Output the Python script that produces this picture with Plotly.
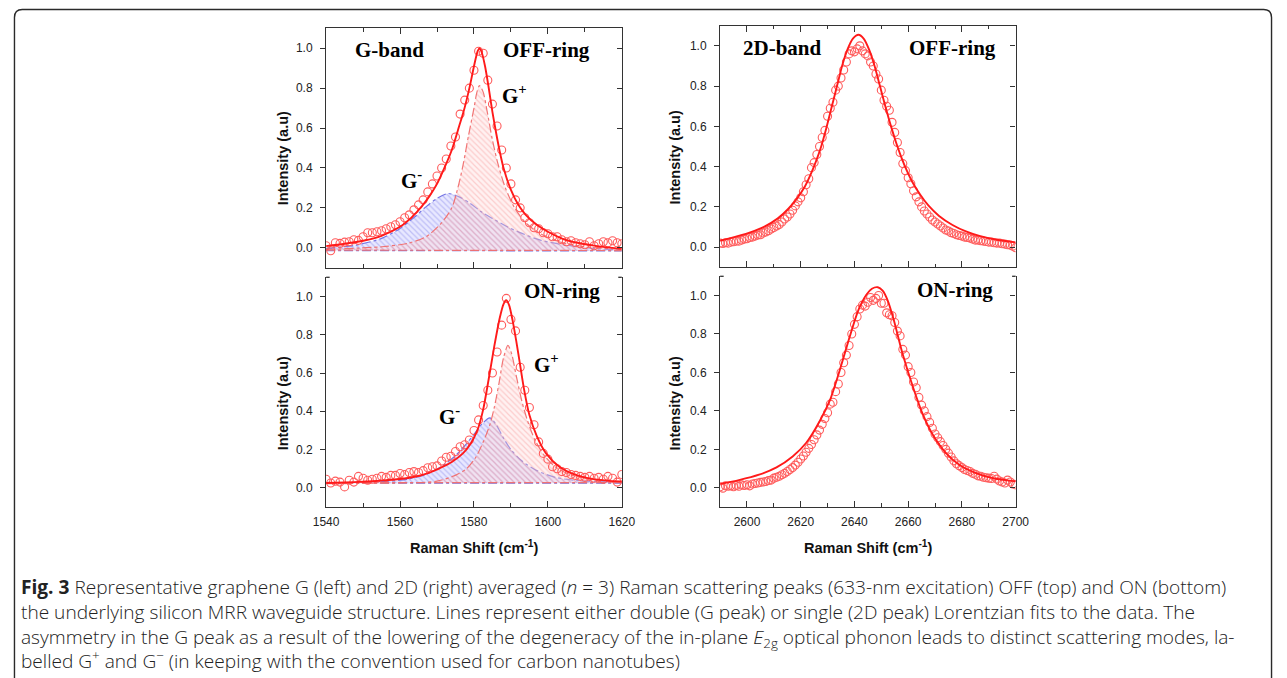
import plotly.graph_objects as go

W, H = 1287, 678

# ---------------- data ----------------
g_x = [1540.00, 1541.25, 1542.50, 1543.75, 1545.00, 1546.25, 1547.50, 1548.75, 1550.00, 1551.25,
       1552.50, 1553.75, 1555.00, 1556.25, 1557.50, 1558.75, 1560.00, 1561.25, 1562.50, 1563.75,
       1565.00, 1566.25, 1567.50, 1568.75, 1570.00, 1571.25, 1572.50, 1573.75, 1575.00, 1576.25,
       1577.50, 1578.75, 1580.00, 1581.25, 1582.50, 1583.75, 1585.00, 1586.25, 1587.50, 1588.75,
       1590.00, 1591.25, 1592.50, 1593.75, 1595.00, 1596.25, 1597.50, 1598.75, 1600.00, 1601.25,
       1602.50, 1603.75, 1605.00, 1606.25, 1607.50, 1608.75, 1610.00, 1611.25, 1612.50, 1613.75,
       1615.00, 1616.25, 1617.50, 1618.75, 1620.00]
g_off_y = [0.010, -0.015, 0.025, 0.022, 0.028, 0.030, 0.040, 0.037, 0.055, 0.075,
           0.075, 0.080, 0.085, 0.095, 0.105, 0.115, 0.130, 0.150, 0.165, 0.190,
           0.215, 0.240, 0.280, 0.320, 0.360, 0.400, 0.445, 0.510, 0.555, 0.670,
           0.740, 0.800, 0.890, 0.985, 0.975, 0.840, 0.720, 0.610, 0.490, 0.400,
           0.320, 0.240, 0.200, 0.150, 0.125, 0.100, 0.095, 0.075, 0.070, 0.055,
           0.055, 0.040, 0.030, 0.035, 0.025, 0.020, 0.015, 0.030, 0.010, 0.020,
           0.030, 0.025, 0.035, 0.025, 0.020]
g_off_fit_x = [1540, 1545, 1550, 1555, 1560, 1563, 1566, 1568, 1570, 1572, 1574, 1576, 1577, 1578,
               1579, 1580, 1581, 1581.5, 1582, 1583, 1584, 1585, 1586, 1587, 1588, 1590, 1592, 1594,
               1597, 1600, 1604, 1608, 1612, 1616, 1620]
g_off_fit_y = [0.008, 0.020, 0.035, 0.060, 0.105, 0.150, 0.210, 0.260, 0.320, 0.400, 0.490, 0.610,
               0.670, 0.740, 0.820, 0.910, 0.985, 1.000, 0.985, 0.910, 0.800, 0.680, 0.575, 0.480,
               0.400, 0.290, 0.215, 0.165, 0.115, 0.080, 0.045, 0.025, 0.012, 0.002, -0.006]
g_off_plus_x = [1540, 1555, 1562, 1567, 1571, 1574, 1575.5, 1577, 1578.5, 1580, 1580.8, 1581.5,
                1582.5, 1583.5, 1585, 1586.5, 1588.5, 1591, 1594, 1598, 1603, 1610, 1620]
g_off_plus_y = [-0.008, 0.005, 0.022, 0.055, 0.120, 0.200, 0.290, 0.410, 0.560, 0.700, 0.780, 0.813,
                0.780, 0.690, 0.540, 0.420, 0.300, 0.200, 0.125, 0.070, 0.030, 0.005, -0.008]
g_off_minus_x = [1540, 1548, 1555, 1560, 1564, 1567, 1570, 1573, 1576, 1579, 1582, 1585, 1589,
                 1593, 1598, 1605, 1612, 1620]
g_off_minus_y = [-0.003, 0.013, 0.047, 0.097, 0.155, 0.205, 0.247, 0.272, 0.255, 0.222, 0.180,
                 0.147, 0.105, 0.072, 0.038, 0.013, -0.003, -0.012]
g_base_x = [1540, 1620]
g_off_base_red = [-0.012, -0.014]
g_off_base_blue = [-0.014, -0.016]

g_on_y = [0.045, 0.025, 0.035, 0.030, 0.005, 0.040, 0.030, 0.060, 0.050, 0.040,
          0.045, 0.050, 0.060, 0.055, 0.065, 0.065, 0.075, 0.070, 0.080, 0.085,
          0.080, 0.090, 0.105, 0.110, 0.115, 0.140, 0.160, 0.165, 0.190, 0.215,
          0.225, 0.250, 0.300, 0.355, 0.430, 0.510, 0.600, 0.710, 0.850, 0.990,
          0.880, 0.820, 0.630, 0.510, 0.420, 0.330, 0.240, 0.180, 0.150, 0.110,
          0.100, 0.085, 0.080, 0.070, 0.065, 0.060, 0.055, 0.060, 0.050, 0.055,
          0.045, 0.060, 0.050, 0.030, 0.070]
g_on_fit_x = [1540, 1545, 1550, 1555, 1560, 1564, 1568, 1571, 1574, 1577, 1579, 1581, 1582.5, 1584,
              1585.5, 1587, 1588, 1588.7, 1589.5, 1590.5, 1591.5, 1592.5, 1593.5, 1595, 1597, 1599.5,
              1603, 1607, 1612, 1616, 1620]
g_on_fit_y = [0.025, 0.028, 0.032, 0.038, 0.046, 0.058, 0.080, 0.105, 0.135, 0.180, 0.228, 0.305,
              0.410, 0.570, 0.740, 0.890, 0.960, 0.980, 0.955, 0.870, 0.760, 0.640, 0.520, 0.380,
              0.270, 0.180, 0.112, 0.072, 0.047, 0.038, 0.033]
g_on_plus_x = [1540, 1560, 1570, 1575.2, 1578, 1580.5, 1582.5, 1584.3, 1585.5, 1586.8, 1588, 1589.2,
               1590.2, 1591.5, 1593, 1594.5, 1596.5, 1599, 1602, 1606, 1612, 1620]
g_on_plus_y = [0.022, 0.026, 0.035, 0.068, 0.100, 0.160, 0.240, 0.330, 0.420, 0.550, 0.680, 0.745,
               0.700, 0.580, 0.450, 0.350, 0.250, 0.170, 0.110, 0.070, 0.045, 0.032]
g_on_minus_x = [1540, 1555, 1562, 1567, 1571, 1574.5, 1577.5, 1580, 1582, 1584.3, 1586, 1588, 1590,
                1593, 1597, 1602, 1608, 1620]
g_on_minus_y = [0.025, 0.032, 0.045, 0.070, 0.110, 0.160, 0.220, 0.280, 0.330, 0.366, 0.330, 0.260,
                0.200, 0.140, 0.090, 0.055, 0.038, 0.030]
g_on_base_red = [0.027, 0.027]
g_on_base_blue = [0.024, 0.024]

d_x = [2590, 2591, 2592, 2593, 2594, 2595, 2596, 2597, 2598, 2599,
       2600, 2601, 2602, 2603, 2604, 2605, 2606, 2607, 2608, 2609,
       2610, 2611, 2612, 2613, 2614, 2615, 2616, 2617, 2618, 2619,
       2620, 2621, 2622, 2623, 2624, 2625, 2626, 2627, 2628, 2629,
       2630, 2631, 2632, 2633, 2634, 2635, 2636, 2637, 2638, 2639,
       2640, 2641, 2642, 2643, 2644, 2645, 2646, 2647, 2648, 2649,
       2650, 2651, 2652, 2653, 2654, 2655, 2656, 2657, 2658, 2659,
       2660, 2661, 2662, 2663, 2664, 2665, 2666, 2667, 2668, 2669,
       2670, 2671, 2672, 2673, 2674, 2675, 2676, 2677, 2678, 2679,
       2680, 2681, 2682, 2683, 2684, 2685, 2686, 2687, 2688, 2689,
       2690, 2691, 2692, 2693, 2694, 2695, 2696, 2697, 2698, 2699,
       2700]
d_off_y = [0.020, 0.018, 0.022, 0.020, 0.025, 0.027, 0.030, 0.030, 0.035, 0.040,
           0.042, 0.048, 0.050, 0.055, 0.060, 0.062, 0.070, 0.075, 0.082, 0.090,
           0.098, 0.105, 0.112, 0.125, 0.140, 0.150, 0.165, 0.183, 0.205, 0.225,
           0.245, 0.275, 0.310, 0.340, 0.395, 0.420, 0.460, 0.500, 0.545, 0.580,
           0.650, 0.690, 0.720, 0.780, 0.800, 0.840, 0.880, 0.920, 0.960, 0.975,
           0.970, 0.985, 1.000, 0.975, 0.960, 0.950, 0.920, 0.900, 0.860, 0.835,
           0.780, 0.730, 0.700, 0.680, 0.620, 0.570, 0.520, 0.470, 0.415, 0.380,
           0.345, 0.315, 0.280, 0.250, 0.225, 0.200, 0.180, 0.165, 0.150, 0.135,
           0.125, 0.115, 0.105, 0.095, 0.085, 0.080, 0.072, 0.068, 0.062, 0.058,
           0.055, 0.050, 0.048, 0.045, 0.040, 0.035, 0.035, 0.032, 0.030, 0.028,
           0.025, 0.025, 0.022, 0.020, 0.020, 0.017, 0.015, 0.012, 0.010, 0.005,
           -0.003]
d_off_fit_x = [2590, 2596.5, 2601.5, 2606.5, 2611.5, 2615.5, 2618.5, 2621.5, 2623.5, 2625.5, 2627.5,
               2629.5, 2631.5, 2633.5, 2635.5, 2637.5, 2639.5, 2641.5, 2643.5, 2645.5, 2647.5, 2649.5,
               2651.5, 2653.5, 2655.5, 2657.5, 2659.5, 2661.5, 2664.5, 2667.5, 2671.5, 2676.5, 2681.5,
               2686.5, 2693, 2700]
d_off_fit_y = [0.032, 0.055, 0.075, 0.102, 0.143, 0.192, 0.240, 0.300, 0.355, 0.420, 0.495, 0.590,
               0.695, 0.800, 0.905, 0.985, 1.037, 1.055, 1.035, 0.980, 0.900, 0.800, 0.700, 0.605,
               0.520, 0.445, 0.380, 0.325, 0.260, 0.207, 0.155, 0.110, 0.078, 0.056, 0.037, 0.024]
d_on_y = [0.005, -0.002, 0.010, 0.008, 0.010, 0.005, 0.012, 0.008, 0.015, 0.012,
          0.016, 0.010, 0.020, 0.022, 0.025, 0.028, 0.030, 0.033, 0.038, 0.040,
          0.050, 0.055, 0.060, 0.068, 0.075, 0.085, 0.095, 0.105, 0.118, 0.133,
          0.150, 0.165, 0.185, 0.205, 0.225, 0.250, 0.275, 0.300, 0.330, 0.360,
          0.390, 0.435, 0.445, 0.500, 0.540, 0.600, 0.650, 0.690, 0.740, 0.800,
          0.850, 0.890, 0.930, 0.950, 0.945, 0.965, 0.990, 0.975, 0.985, 1.000,
          0.960, 0.960, 0.910, 0.900, 0.895, 0.860, 0.815, 0.790, 0.720, 0.690,
          0.630, 0.600, 0.550, 0.520, 0.470, 0.430, 0.400, 0.370, 0.340, 0.310,
          0.280, 0.260, 0.240, 0.220, 0.200, 0.180, 0.160, 0.140, 0.125, 0.115,
          0.105, 0.095, 0.090, 0.085, 0.075, 0.070, 0.062, 0.060, 0.055, 0.052,
          0.050, 0.048, 0.060, 0.045, 0.035, 0.030, 0.025, 0.040, 0.030, 0.020,
          0.015]
d_on_fit_x = [2590, 2597, 2604.5, 2611, 2617, 2622, 2627, 2631, 2634.5, 2638, 2641.5, 2644.5, 2646.5,
              2648.7, 2650.5, 2652.5, 2654.5, 2658, 2662, 2665.5, 2669, 2674, 2679, 2685, 2691.5, 2700]
d_on_fit_y = [0.020, 0.040, 0.068, 0.106, 0.163, 0.233, 0.345, 0.460, 0.610, 0.775, 0.925, 1.005,
              1.035, 1.043, 1.025, 0.970, 0.880, 0.693, 0.515, 0.380, 0.280, 0.182, 0.120, 0.078,
              0.050, 0.033]

g_xticks = [1540, 1560, 1580, 1600, 1620]
d_xticks = [2600, 2620, 2640, 2660, 2680, 2700]
y_ticks = [0.0, 0.2, 0.4, 0.6, 0.8, 1.0]
y_ticktext = ["0.0", "0.2", "0.4", "0.6", "0.8", "1.0"]

# ---------------- styling / layout ----------------
AX = "#333333"
RED_FIT = "#ff1a1a"
RED_PT = "#ff5c5c"
PLUS_LINE = "rgba(240,110,110,0.95)"
MINUS_LINE = "rgba(110,110,225,0.95)"
TICKF = dict(family="Liberation Sans, Arial, sans-serif", size=12, color="#222222")
TITLEF = dict(family="Liberation Sans, Arial, sans-serif", size=14.5, color="#111111")
LABF = dict(family="Liberation Serif, Times New Roman, serif", size=21, color="#000000")

# horizontal correction (the photographed page comes out slightly narrower than drawn)
KX = 0.98
def SX(p):
    return (W / 2 + (p - W / 2) / KX) / W

def SY(p):
    return 1 - p / H

# panel boxes in target pixels (left, right, top, bottom)
boxes = {
    1: (326.3, 622.3, 28.3, 267.7),
    2: (326.3, 622.3, 277.3, 507.0),
    3: (720.7, 1016.5, 25.7, 267.3),
    4: (720.7, 1016.5, 276.3, 507.0),
}

fig = go.Figure()

def sfx(i):
    return "" if i == 1 else str(i)

def add_G(i, yd, fx, fy, px_, py_, mx_, my_, bred, bblue):
    xa, ya = "x" + sfx(i), "y" + sfx(i)
    common = dict(xaxis=xa, yaxis=ya, showlegend=False, hoverinfo="skip")
    fig.add_trace(go.Scatter(x=g_base_x, y=bblue, mode="lines",
                             line=dict(color=MINUS_LINE, dash="dashdot", width=1.2), **common))
    fig.add_trace(go.Scatter(x=mx_, y=my_, mode="lines",
                             line=dict(color=MINUS_LINE, dash="dashdot", width=1.2, shape="spline", smoothing=0.8),
                             fill="tonexty", fillcolor="rgba(190,190,250,0.45)",
                             fillpattern=dict(shape="\\", fgcolor="rgba(110,110,230,0.7)",
                                              bgcolor="rgba(205,205,255,0.45)", size=4, solidity=0.3),
                             **common))
    fig.add_trace(go.Scatter(x=g_base_x, y=bred, mode="lines",
                             line=dict(color=PLUS_LINE, dash="dashdot", width=1.2), **common))
    fig.add_trace(go.Scatter(x=px_, y=py_, mode="lines",
                             line=dict(color=PLUS_LINE, dash="dashdot", width=1.2, shape="spline", smoothing=0.8),
                             fill="tonexty", fillcolor="rgba(255,205,205,0.4)",
                             fillpattern=dict(shape="\\", fgcolor="rgba(245,125,125,0.65)",
                                              bgcolor="rgba(255,215,215,0.35)", size=4, solidity=0.3),
                             **common))
    fig.add_trace(go.Scatter(x=g_x, y=yd, mode="markers",
                             marker=dict(symbol="circle-open", size=8, color=RED_PT, line=dict(width=1.1)),
                             **common))
    fig.add_trace(go.Scatter(x=fx, y=fy, mode="lines",
                             line=dict(color=RED_FIT, width=1.9, shape="spline", smoothing=0.7), **common))

def add_D(i, yd, fx, fy):
    xa, ya = "x" + sfx(i), "y" + sfx(i)
    common = dict(xaxis=xa, yaxis=ya, showlegend=False, hoverinfo="skip")
    fig.add_trace(go.Scatter(x=d_x, y=yd, mode="markers",
                             marker=dict(symbol="circle-open", size=8, color=RED_PT, line=dict(width=1.1)),
                             **common))
    fig.add_trace(go.Scatter(x=fx, y=fy, mode="lines",
                             line=dict(color=RED_FIT, width=1.9, shape="spline", smoothing=0.7), **common))

add_G(1, g_off_y, g_off_fit_x, g_off_fit_y, g_off_plus_x, g_off_plus_y, g_off_minus_x, g_off_minus_y,
      g_off_base_red, g_off_base_blue)
add_G(2, g_on_y, g_on_fit_x, g_on_fit_y, g_on_plus_x, g_on_plus_y, g_on_minus_x, g_on_minus_y,
      g_on_base_red, g_on_base_blue)
add_D(3, d_off_y, d_off_fit_x, d_off_fit_y)
add_D(4, d_on_y, d_on_fit_x, d_on_fit_y)

for i in range(1, 5):
    fig.add_trace(go.Scatter(x=[None], y=[None], xaxis="x" + sfx(i), yaxis="y" + str(i + 4),
                             showlegend=False, hoverinfo="skip"))

layout = dict(width=W, height=H, margin=dict(l=0, r=0, t=0, b=0),
              paper_bgcolor="white", plot_bgcolor="white", showlegend=False)

for i in range(1, 5):
    b = boxes[i]
    is_g = i in (1, 2)
    is_bottom = i in (2, 4)
    xr = [1540, 1620] if is_g else [2590, 2700]
    xt = g_xticks if is_g else d_xticks
    layout["xaxis" + sfx(i)] = dict(
        domain=[SX(b[0]), SX(b[1])], range=xr, anchor="y" + sfx(i), showgrid=False, zeroline=False,
        showline=True, linecolor=AX, linewidth=1.3, mirror=("ticks" if not is_bottom else False),
        ticks="inside", ticklen=6, tickwidth=1.1, tickcolor=AX,
        tickvals=xt, ticktext=[str(v) for v in xt], showticklabels=is_bottom,
        tickfont=TICKF, ticklabelstandoff=3,
        minor=dict(tick0=xr[0], dtick=10, ticks="inside", ticklen=3.5, tickwidth=1.1,
                   tickcolor=AX, showgrid=False),
    )
    layout["yaxis" + sfx(i)] = dict(
        domain=[SY(b[3]), SY(b[2])], range=[-0.1, 1.1], anchor="x" + sfx(i), showgrid=False,
        zeroline=False, showline=True, linecolor=AX, linewidth=1.3, mirror=False,
        ticks="outside", ticklen=5, tickwidth=1.1, tickcolor=AX,
        tickvals=y_ticks, ticktext=y_ticktext, tickfont=TICKF, ticklabelstandoff=5,
    )
    layout["yaxis" + str(i + 4)] = dict(
        overlaying="y" + sfx(i), anchor="x" + sfx(i), side="right", range=[-0.1, 1.1],
        showgrid=False, zeroline=False, showline=True, linecolor=AX, linewidth=1.3,
        ticks="inside", ticklen=5, tickwidth=1.1, tickcolor=AX,
        tickvals=y_ticks, showticklabels=False,
    )

fig.update_layout(**layout)

shapes = []
for i in (2, 4):
    for (a, c) in ((0, 0.012), (0.988, 1)):
        shapes.append(dict(type="line", xref="x%d domain" % i, yref="y%d domain" % i,
                           x0=a, x1=c, y0=1, y1=1, line=dict(color=AX, width=1.3)))

# rounded border frame: top and sides, running down past the bottom of the page
bx0, bx1 = 1.5 / W, 1 - 1.5 / W
by0, by1 = SY(9.5), SY(700)
rx, ry = 8 / W, 8 / H
path = (f"M {bx0},{by1} L {bx0},{by0 - ry} Q {bx0},{by0} {bx0 + rx},{by0} "
        f"L {bx1 - rx},{by0} Q {bx1},{by0} {bx1},{by0 - ry} L {bx1},{by1}")
shapes.append(dict(type="path", xref="paper", yref="paper", path=path,
                   line=dict(color="#2a2a2a", width=1.4)))
fig.update_layout(shapes=shapes)

ann = []
def lab(text, x, y, i):
    ann.append(dict(text="<b>" + text + "</b>", x=x, y=y, xref="x" + sfx(i), yref="y" + sfx(i),
                    showarrow=False, font=LABF, xanchor="center", yanchor="middle"))

lab("G-band", 1557.2, 0.99, 1)
lab("OFF-ring", 1599.6, 0.99, 1)
lab("G<sup>+</sup>", 1591.0, 0.77, 1)
lab("G<sup>-</sup>", 1563.1, 0.34, 1)
lab("ON-ring", 1603.9, 1.03, 2)
lab("G<sup>+</sup>", 1599.6, 0.65, 2)
lab("G<sup>-</sup>", 1573.4, 0.38, 2)
lab("2D-band", 2613.3, 0.99, 3)
lab("OFF-ring", 2676.6, 0.99, 3)
lab("ON-ring", 2677.3, 1.03, 4)

def ptitle(text, px_, py_, angle=0):
    ann.append(dict(text="<b>" + text + "</b>", x=SX(px_), y=SY(py_), xref="paper", yref="paper",
                    showarrow=False, font=TITLEF, textangle=angle, xanchor="center", yanchor="middle"))

ptitle("Intensity (a.u)", 283.5, 158, -90)
ptitle("Intensity (a.u)", 283.5, 403, -90)
ptitle("Intensity (a.u)", 676, 157, -90)
ptitle("Intensity (a.u)", 676, 403, -90)
ptitle("Raman Shift (cm<sup>-1</sup>)", 474, 547)
ptitle("Raman Shift (cm<sup>-1</sup>)", 869, 547)

cap_lines = [
    "<b>Fig. 3</b> Representative graphene G (left) and 2D (right) averaged (<i>n</i> = 3) Raman scattering peaks (633-nm excitation) OFF (top) and ON (bottom)",
    "the underlying silicon MRR waveguide structure. Lines represent either double (G peak) or single (2D peak) Lorentzian fits to the data. The",
    "asymmetry in the G peak as a result of the lowering of the degeneracy of the in-plane <i>E</i><sub>2g</sub> optical phonon leads to distinct scattering modes, la-",
    "belled G<sup>+</sup> and G<sup>\u2212</sup> (in keeping with the convention used for carbon nanotubes)",
]
ann.append(dict(text="<br>".join(cap_lines), x=SX(19), y=SY(676), xref="paper", yref="paper",
                showarrow=False, xanchor="left", yanchor="bottom", align="left",
                font=dict(family="Open Sans, sans-serif", size=19.1, color="#222222", weight=300)))

fig.update_layout(annotations=ann)
fig.write_html("out.html", config={"displayModeBar": False},
               post_script="document.body.style.margin='0px';document.body.style.overflow='hidden';")
